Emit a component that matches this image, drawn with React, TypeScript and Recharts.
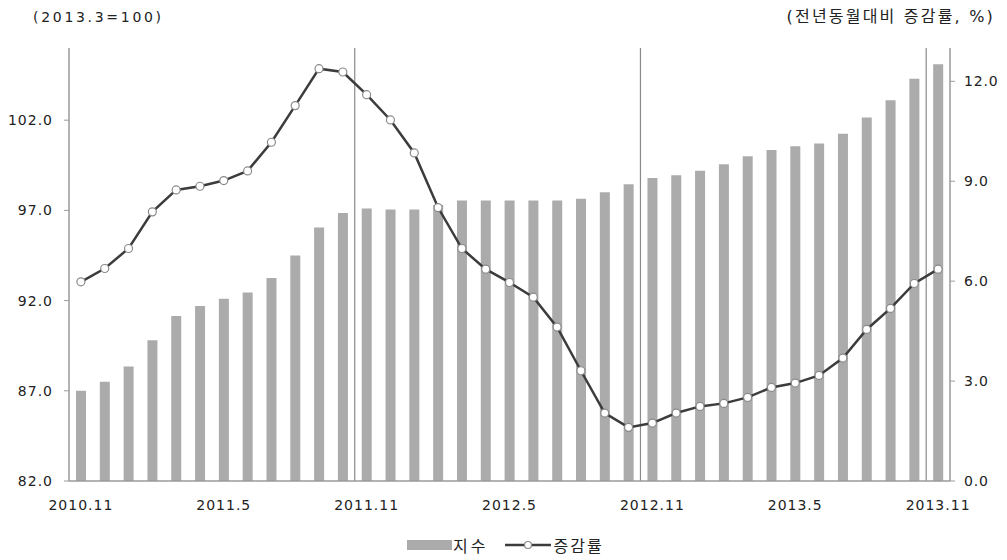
import React from 'react';
import {
  ComposedChart,
  Bar,
  Line,
  XAxis,
  YAxis,
  ReferenceLine,
  Legend,
} from 'recharts';

const categories = [
  '2010.11', '2010.12',
  '2011.1', '2011.2', '2011.3', '2011.4', '2011.5', '2011.6', '2011.7', '2011.8', '2011.9', '2011.10', '2011.11', '2011.12',
  '2012.1', '2012.2', '2012.3', '2012.4', '2012.5', '2012.6', '2012.7', '2012.8', '2012.9', '2012.10', '2012.11', '2012.12',
  '2013.1', '2013.2', '2013.3', '2013.4', '2013.5', '2013.6', '2013.7', '2013.8', '2013.9', '2013.10', '2013.11',
];

const indexValues = [
  87.0, 87.5, 88.35, 89.8, 91.15, 91.7, 92.1, 92.45, 93.25, 94.5, 96.05, 96.85,
  97.1, 97.05, 97.05, 97.3, 97.55, 97.55, 97.55, 97.55, 97.55, 97.65, 98.0, 98.45,
  98.8, 98.95, 99.2, 99.55, 100.0, 100.35, 100.55, 100.7, 101.25, 102.15, 103.1, 104.3, 105.1,
];

const rateValues = [
  5.98, 6.38, 6.98, 8.08, 8.74, 8.85, 9.02, 9.31, 10.17, 11.27, 12.38, 12.28,
  11.6, 10.84, 9.85, 8.21, 6.98, 6.36, 5.96, 5.52, 4.62, 3.31, 2.04, 1.61,
  1.74, 2.04, 2.24, 2.33, 2.51, 2.81, 2.94, 3.17, 3.69, 4.55, 5.18, 5.93, 6.36,
];

const leftTicks = [82, 87, 92, 97, 102];
const rightTicks = [0, 3, 6, 9, 12];
const yearSeparators = ['2011.11', '2012.11', '2013.11'];

const seriesNames = { index: '지수', rate: '증감률' };
const leftUnitLabel = '(2013.3=100)';
const rightUnitLabel = '(전년동월대비 증감률, %)';

const data = categories.map((c, i) => ({
  month: c,
  index: indexValues[i],
  rate: rateValues[i],
}));

const FONT = '"DejaVu Sans", "Noto Sans CJK KR", sans-serif';
const AXIS = '#9a9a9a';
const BAR = '#ababab';
const LINE = '#3c3c3c';

const LegendContent = () => (
  <div
    style={{
      display: 'flex',
      alignItems: 'center',
      height: 30,
      paddingLeft: 399,
      fontFamily: FONT,
      fontSize: 16,
      color: '#222',
    }}
  >
    <div style={{ width: 45, height: 10, background: BAR }} />
    <span style={{ marginLeft: 1, letterSpacing: 3 }}>{seriesNames.index}</span>
    <svg width={46} height={14} style={{ marginLeft: 17 }}>
      <line x1={0} y1={7} x2={46} y2={7} stroke={LINE} strokeWidth={2.5} />
      <circle cx={23} cy={7} r={3.5} fill="#fff" stroke="#888" strokeWidth={1.2} />
    </svg>
    <span style={{ marginLeft: 2, letterSpacing: 2 }}>{seriesNames.rate}</span>
  </div>
);

export default function App() {
  return (
    <div style={{ position: 'relative', width: 999, height: 552, background: '#fff' }}>
      <div
        style={{
          position: 'absolute',
          left: 25,
          top: 1,
          fontFamily: FONT,
          fontSize: 14,
          lineHeight: '16px',
          letterSpacing: 2.7,
          color: '#222',
          whiteSpace: 'nowrap',
        }}
      >
        {leftUnitLabel}
      </div>
      <div
        style={{
          position: 'absolute',
          right: 12,
          top: 0,
          fontFamily: FONT,
          fontSize: 16,
          lineHeight: '18px',
          letterSpacing: 2.2,
          color: '#222',
          whiteSpace: 'nowrap',
        }}
      >
        {rightUnitLabel}
      </div>
      <ComposedChart
        width={999}
        height={552}
        data={data}
        margin={{ top: 40, right: 0, bottom: 0, left: 0 }}
        barCategoryGap={0}
      >
        <XAxis
          dataKey="month"
          xAxisId="main"
          interval={5}
          tickLine={false}
          tickSize={0}
          tickMargin={19}
          height={49}
          axisLine={{ stroke: AXIS, strokeWidth: 1.5 }}
          tick={{ fill: '#222', fontSize: 14, fontFamily: FONT, letterSpacing: 1 }}
        />
        <XAxis
          dataKey="month"
          xAxisId="top"
          orientation="top"
          height={0}
          tick={false}
          tickLine={false}
          axisLine={{ stroke: AXIS, strokeWidth: 1.5 }}
        />
        <YAxis
          yAxisId="left"
          orientation="left"
          width={61}
          domain={[82, 106]}
          ticks={leftTicks}
          allowDataOverflow
          tickFormatter={(v: number) => v.toFixed(1)}
          tickSize={5}
          tickMargin={11}
          tickLine={{ stroke: AXIS }}
          axisLine={{ stroke: AXIS, strokeWidth: 1.5 }}
          tick={{ fill: '#222', fontSize: 14, fontFamily: FONT, letterSpacing: 1 }}
        />
        <YAxis
          yAxisId="right"
          orientation="right"
          width={57}
          domain={[0, 13]}
          ticks={rightTicks}
          allowDataOverflow
          tickFormatter={(v: number) => v.toFixed(1)}
          tickSize={5}
          tickMargin={9}
          tickLine={{ stroke: AXIS }}
          axisLine={{ stroke: AXIS, strokeWidth: 1.5 }}
          tick={{ fill: '#222', fontSize: 14, fontFamily: FONT, letterSpacing: 0.8 }}
        />
        {yearSeparators.map((m) => (
          <ReferenceLine
            key={m}
            x={m}
            xAxisId="main"
            yAxisId="left"
            position="start"
            stroke="#8a8a8a"
            strokeWidth={1.2}
          />
        ))}
        <Bar
          dataKey="index"
          name={seriesNames.index}
          xAxisId="main"
          yAxisId="left"
          fill={BAR}
          barSize={10}
          isAnimationActive={false}
        />
        <Line
          dataKey="rate"
          name={seriesNames.rate}
          xAxisId="main"
          yAxisId="right"
          type="linear"
          stroke={LINE}
          strokeWidth={2.5}
          dot={{ r: 4, fill: '#fff', stroke: '#8a8a8a', strokeWidth: 1.2 }}
          isAnimationActive={false}
        />
        <Legend verticalAlign="bottom" height={30} content={<LegendContent />} />
      </ComposedChart>
    </div>
  );
}
